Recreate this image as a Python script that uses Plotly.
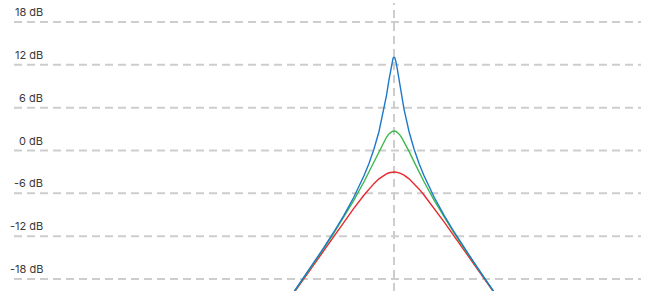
import plotly.graph_objects as go

# frequency (Hz) samples, resonance centred at 1 kHz
freq = [79.43, 100.0, 125.89, 158.49, 199.53, 251.19, 316.23, 398.11, 501.19, 562.34, 630.96, 707.95,
        794.33, 841.40, 891.25, 912.01, 933.25, 954.99, 966.05, 977.24, 988.55,
        1000.0,
        1011.58, 1023.29, 1035.14, 1047.13, 1071.52, 1096.48, 1122.02, 1188.50, 1258.93, 1412.54,
        1584.89, 1778.28, 1995.26, 2511.89, 3162.28, 3981.07, 5011.87, 6309.57, 7943.28, 10000.0, 12589.25]

# magnitude in dB for three Q settings
half_q07 = [-3.0103, -3.0115, -3.0149, -3.0207, -3.0287, -3.0516, -3.084, -3.1244, -3.2644, -3.4555,
            -3.9733, -4.639, -5.414, -6.2656, -8.1077, -10.0432, -12.0173, -14.0068, -16.0027, -18.0011,
            -20.0004, -22.0002]
half_q14 = [2.734, 2.730, 2.717, 2.696, 2.666, 2.581, 2.465, 2.321, 1.849, 1.257, -0.125, -1.592,
            -3.035, -4.417, -6.991, -9.362, -11.597, -13.746, -15.840, -17.899, -19.936, -21.960]
half_q45 = [13.064, 13.018, 12.882, 12.664, 12.375, 11.643, 10.788, 9.887, 7.699, 5.764, 2.629, 0.180,
            -1.841, -3.583, -6.549, -9.111, -11.449, -13.656, -15.785, -17.865, -19.915, -21.946]

def mirror(h):
    return h[::-1] + h[1:]

red_db = mirror(half_q07)
green_db = mirror(half_q14)
blue_db = mirror(half_q45)

grid_db = [18, 12, 6, 0, -6, -12, -18]
grid_labels = ["18 dB", "12 dB", "6 dB", "0 dB", "-6 dB", "-12 dB", "-18 dB"]
center_freq = 1000.0

fig = go.Figure()
for vals, col in [(red_db, "#e8282d"), (green_db, "#3cb94a"), (blue_db, "#1f78c8")]:
    fig.add_trace(go.Scatter(x=freq, y=vals, mode="lines",
                             line=dict(color=col, width=1.4), showlegend=False, hoverinfo="skip"))

shapes = []
for g in grid_db:
    shapes.append(dict(type="line", xref="paper", yref="y", x0=14/645, x1=641/645, y0=g, y1=g,
                       line=dict(color="#cdcdcd", width=2, dash="8px,5px"), layer="below"))
shapes.append(dict(type="line", xref="x", yref="paper", x0=center_freq, x1=center_freq, y0=0, y1=0.99,
                   line=dict(color="#cdcdcd", width=2, dash="8px,5px"), layer="below"))

annotations = []
for g, t in zip(grid_db, grid_labels):
    annotations.append(dict(text=t, xref="paper", yref="y", x=45/645, y=g, xanchor="right",
                            yanchor="bottom", showarrow=False, yshift=1,
                            font=dict(family="Inter", size=11, color="#3a3a3a")))

fig.update_layout(
    width=645, height=291,
    margin=dict(l=0, r=0, t=0, b=0),
    paper_bgcolor="white", plot_bgcolor="white",
    xaxis=dict(type="log", range=[-0.9204, 5.4975], visible=False, showgrid=False, zeroline=False),
    yaxis=dict(range=[-19.68, 21.08], visible=False, showgrid=False, zeroline=False),
    shapes=shapes, annotations=annotations,
)
fig.write_html("out.html", config={"displayModeBar": False},
               post_script="document.body.style.margin='0px';document.body.style.overflow='hidden';")
